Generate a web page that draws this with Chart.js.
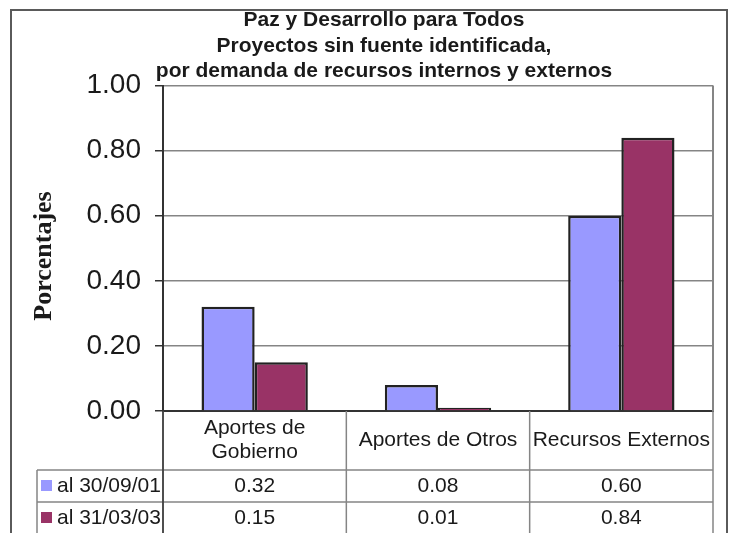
<!DOCTYPE html>
<html>
<head>
<meta charset="utf-8">
<script src="https://cdn.jsdelivr.net/npm/chart.js@4.4.1/dist/chart.umd.min.js"></script>
<style>
  html, body { margin: 0; padding: 0; background: #fff; }
  #wrap { width: 729px; height: 533px; }
</style>
</head>
<body>
<div id="wrap"><canvas id="myChart" width="729" height="533"></canvas></div>
<script>
// data
const categories = [['Aportes de', 'Gobierno'], 'Aportes de Otros', 'Recursos Externos']
const seriesNames = ['al 30/09/01', 'al 31/03/03']
const serie1 = [0.32, 0.08, 0.60]
const serie2 = [0.15, 0.01, 0.84]
const yTicks = [0, 0.2, 0.4, 0.6, 0.8, 1.0]
const colors = ['#9999FF', '#993366']

const titleLines = ['Paz y Desarrollo para Todos', 'Proyectos sin fuente identificada,', 'por demanda de recursos internos y externos']
const yTitle = 'Porcentajes'

const lineGray = '#858585'
const textColor = '#1a1a1a'
const tableFont = '21px "Liberation Sans", Arial, sans-serif'

// frame, y title and the data table under the plot
const tablePlugin = {
    id: 'tablePlugin',
    beforeDraw(chart) {
        const ctx = chart.ctx
        ctx.save()
        ctx.fillStyle = '#fff'
        ctx.fillRect(0, 0, chart.width, chart.height)
        ctx.strokeStyle = '#5a5a5a'
        ctx.lineWidth = 2
        ctx.strokeRect(11, 10, 716, 600)
        ctx.restore()
    },
    beforeDatasetsDraw(chart) {
        const ctx = chart.ctx
        const a = chart.chartArea
        ctx.save()
        ctx.strokeStyle = lineGray
        ctx.lineWidth = 2
        ctx.beginPath()
        ctx.moveTo(a.right, a.top)
        ctx.lineTo(a.right, a.bottom)
        ctx.stroke()
        ctx.restore()
    },
    afterDraw(chart) {
        const ctx = chart.ctx
        const a = chart.chartArea
        const x = chart.scales.x
        const n = categories.length
        const bounds = [a.left]
        for (let i = 0; i < n - 1; i++) {
            bounds.push((x.getPixelForValue(i) + x.getPixelForValue(i + 1)) / 2)
        }
        bounds.push(a.right)

        const headBottom = a.bottom + 59
        const rowH = 32
        const legLeft = 37

        ctx.save()
        ctx.strokeStyle = lineGray
        ctx.lineWidth = 1.5
        ctx.beginPath()
        // horizontal rows
        for (let r = 0; r < seriesNames.length; r++) {
            const yy = headBottom + r * rowH
            ctx.moveTo(legLeft, yy)
            ctx.lineTo(a.right, yy)
        }
        // verticals
        bounds.forEach(bx => {
            ctx.moveTo(bx, a.bottom)
            ctx.lineTo(bx, chart.height)
        })
        ctx.moveTo(legLeft, headBottom)
        ctx.lineTo(legLeft, chart.height)
        ctx.stroke()

        // y axis line continues through the table
        ctx.strokeStyle = '#333'
        ctx.beginPath()
        ctx.moveTo(a.left, a.bottom)
        ctx.lineTo(a.left, chart.height)
        ctx.stroke()

        // category header
        ctx.fillStyle = textColor
        ctx.textAlign = 'center'
        ctx.textBaseline = 'middle'
        ctx.font = tableFont
        const headMid = (a.bottom + headBottom) / 2
        for (let i = 0; i < n; i++) {
            const cx = x.getPixelForValue(i)
            const lines = Array.isArray(categories[i]) ? categories[i] : [categories[i]]
            const lh = 24
            lines.forEach((t, k) => {
                ctx.fillText(t, cx, headMid + (k - (lines.length - 1) / 2) * lh)
            })
        }

        // rows with legend keys
        const series = [serie1, serie2]
        for (let r = 0; r < seriesNames.length; r++) {
            const mid = headBottom + r * rowH + rowH / 2
            ctx.fillStyle = colors[r]
            ctx.fillRect(legLeft + 4, mid - 6, 11, 11)
            ctx.fillStyle = textColor
            ctx.textAlign = 'left'
            ctx.fillText(seriesNames[r], legLeft + 20, mid)
            ctx.textAlign = 'center'
            for (let i = 0; i < n; i++) {
                ctx.fillText(series[r][i].toFixed(2), x.getPixelForValue(i), mid)
            }
        }

        // y title
        ctx.translate(44, 256)
        ctx.rotate(-Math.PI / 2)
        ctx.font = 'bold 26px "Liberation Serif", "Times New Roman", serif'
        ctx.fillText(yTitle, 0, 0)
        ctx.restore()
    }
}

const data = {
    labels: categories,
    datasets: [{
        label: seriesNames[0],
        data: serie1,
        backgroundColor: colors[0],
        borderColor: '#222',
        borderWidth: 2.5
    }, {
        label: seriesNames[1],
        data: serie2,
        backgroundColor: colors[1],
        borderColor: '#222',
        borderWidth: 2.5
    }]
}

const options = {
    responsive: false,
    animation: false,
    maintainAspectRatio: false,
    categoryPercentage: 0.58,
    barPercentage: 1.0,
    layout: { padding: { left: 55, right: 16, top: 0, bottom: 122 } },
    plugins: {
        legend: { display: false },
        tooltip: { enabled: false },
        title: {
            display: true,
            text: titleLines,
            color: textColor,
            font: { family: '"Liberation Sans", Arial, sans-serif', size: 21, weight: 'bold', lineHeight: 1.2 },
            padding: { top: 8, bottom: 2 }
        }
    },
    scales: {
        x: {
            afterFit: function (scale) { scale.height = 0 },
            ticks: { display: false },
            grid: { display: false },
            border: { display: true, color: '#333', width: 2 }
        },
        y: {
            min: 0,
            max: 1,
            afterFit: function (scale) { scale.width = 108 },
            afterBuildTicks: function (scale) { scale.ticks = yTicks.map(v => ({ value: v })) },
            ticks: {
                padding: 14,
                color: textColor,
                font: { family: '"Liberation Sans", Arial, sans-serif', size: 28 },
                callback: v => Number(v).toFixed(2)
            },
            grid: { color: lineGray, lineWidth: 1.5, tickLength: 8, tickColor: '#333' },
            border: { display: true, color: '#333', width: 2 }
        }
    }
}

const ctx = document.getElementById('myChart')
const myChart = new Chart(ctx, {
    type: 'bar',
    data: data,
    options: options,
    plugins: [tablePlugin]
})
</script>
</body>
</html>
